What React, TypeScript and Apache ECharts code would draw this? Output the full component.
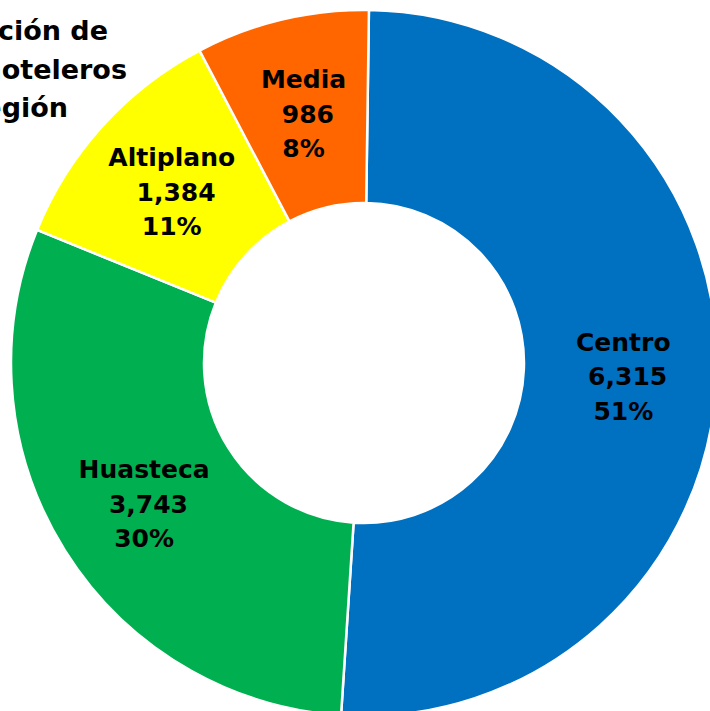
import React, { useEffect, useRef } from "react";
import * as echarts from "echarts";

const categories = ["Centro", "Huasteca", "Altiplano", "Media"];
const values = [6315, 3743, 1384, 986];
const colors = ["#0070C0", "#00B050", "#FFFF00", "#FF6600"];
const titleLines = ["Distribución de", "cuartos hoteleros", "por región"];

export default function App() {
  const ref = useRef<HTMLDivElement>(null);
  useEffect(() => {
    if (!ref.current) return;
    const chart = echarts.init(ref.current, null, { renderer: "svg" });
    const font = "'DejaVu Sans', Verdana, sans-serif";
    chart.setOption({
      animation: false,
      backgroundColor: "#ffffff",
      graphic: [
        { type: "text", right: 710 - 108, top: 17, style: { text: titleLines[0], font: `bold 27px ${font}`, fill: "#000", textAlign: "right" } },
        { type: "text", right: 710 - 127, top: 56, style: { text: titleLines[1], font: `bold 27px ${font}`, fill: "#000", textAlign: "right" } },
        { type: "text", right: 710 - 68, top: 94, style: { text: titleLines[2], font: `bold 27px ${font}`, fill: "#000", textAlign: "right" } },
      ],
      series: [
        {
          type: "pie",
          center: [364, 363],
          radius: [160, 353],
          startAngle: 89.2,
          clockwise: true,
          avoidLabelOverlap: false,
          itemStyle: { borderColor: "#ffffff", borderWidth: 2.5 },
          label: {
            show: true,
            position: "inside",
            color: "#000000",
            fontFamily: font,
            fontWeight: "bold",
            fontSize: 25,
            lineHeight: 34.5,
            align: "center",
            rich: {
              s: { fontSize: 2, lineHeight: 7 },
              n: {
                color: "#000000",
                fontFamily: font,
                fontWeight: "bold",
                fontSize: 25,
                lineHeight: 34.5,
              },
            },
            formatter: (p: any) =>
              `{s|\u00a0}\n{n|${p.name}}\n{n|\u00a0${Number(p.value).toLocaleString("en-US")}}\n{n|${Math.round(p.percent)}%}`,
          },
          labelLine: { show: false },
          emphasis: { disabled: true },
          data: categories.map((name, i) => ({
            name,
            value: values[i],
            itemStyle: { color: colors[i] },
          })),
        },
      ],
    });
    return () => chart.dispose();
  }, []);
  return (
    <div
      ref={ref}
      style={{ position: "fixed", left: 0, top: 0, width: 710, height: 711 }}
    />
  );
}
